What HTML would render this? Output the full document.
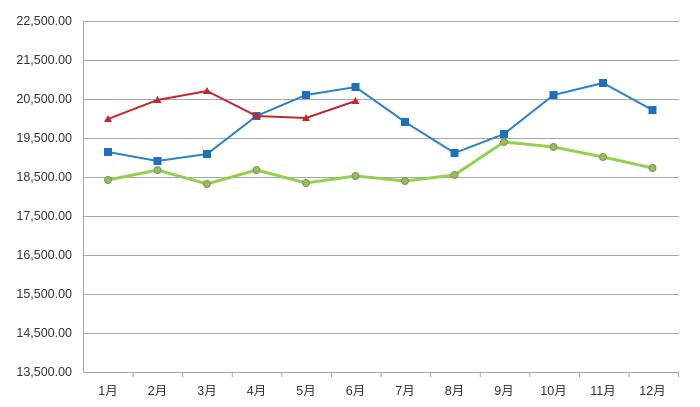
<!DOCTYPE html>
<html><head><meta charset="utf-8"><style>
html,body{margin:0;padding:0;background:#fff;}
svg{display:block;}
text{font-family:"Liberation Sans","Noto Sans CJK SC",sans-serif;font-size:12.5px;fill:#333;}
</style></head><body>
<svg width="700" height="407" xmlns="http://www.w3.org/2000/svg">
<g stroke="#a6a6a6" stroke-width="1">
<line x1="83" y1="21.5" x2="679" y2="21.5"/>
<line x1="83" y1="60.5" x2="679" y2="60.5"/>
<line x1="83" y1="99.5" x2="679" y2="99.5"/>
<line x1="83" y1="138.5" x2="679" y2="138.5"/>
<line x1="83" y1="177.5" x2="679" y2="177.5"/>
<line x1="83" y1="216.5" x2="679" y2="216.5"/>
<line x1="83" y1="255.5" x2="679" y2="255.5"/>
<line x1="83" y1="294.5" x2="679" y2="294.5"/>
<line x1="83" y1="333.5" x2="679" y2="333.5"/>
<line x1="83" y1="372.5" x2="679" y2="372.5"/>
<line x1="83.5" y1="21" x2="83.5" y2="372"/>
<line x1="133.1" y1="372" x2="133.1" y2="377"/><line x1="182.7" y1="372" x2="182.7" y2="377"/><line x1="232.3" y1="372" x2="232.3" y2="377"/><line x1="281.9" y1="372" x2="281.9" y2="377"/><line x1="331.5" y1="372" x2="331.5" y2="377"/><line x1="381.1" y1="372" x2="381.1" y2="377"/><line x1="430.7" y1="372" x2="430.7" y2="377"/><line x1="480.3" y1="372" x2="480.3" y2="377"/><line x1="529.9" y1="372" x2="529.9" y2="377"/><line x1="579.5" y1="372" x2="579.5" y2="377"/><line x1="629.1" y1="372" x2="629.1" y2="377"/><line x1="678.5" y1="372" x2="678.5" y2="377"/>
</g>
<g text-anchor="end">
<text x="72" y="25">22,500.00</text><text x="72" y="64">21,500.00</text><text x="72" y="103">20,500.00</text><text x="72" y="142">19,500.00</text><text x="72" y="181">18,500.00</text><text x="72" y="220">17,500.00</text><text x="72" y="259">16,500.00</text><text x="72" y="298">15,500.00</text><text x="72" y="337">14,500.00</text><text x="72" y="376">13,500.00</text>
</g>
<g text-anchor="middle">
<text x="108" y="395">1月</text><text x="157.5" y="395">2月</text><text x="207" y="395">3月</text><text x="256.5" y="395">4月</text><text x="306" y="395">5月</text><text x="355.5" y="395">6月</text><text x="405" y="395">7月</text><text x="454.5" y="395">8月</text><text x="504" y="395">9月</text><text x="553.5" y="395">10月</text><text x="603" y="395">11月</text><text x="652.5" y="395">12月</text>
</g>
<polyline fill="none" stroke="#92d050" stroke-width="3" points="108,180 157.5,170 207,184 256.5,170 306,183 355.5,176 405,181 454.5,175 504,142 553.5,147 603,157 652.5,168"/>
<g fill="#9bbb59" stroke="#6f9a5a" stroke-width="1">
<circle cx="108" cy="180" r="3.5"/><circle cx="157.5" cy="170" r="3.5"/><circle cx="207" cy="184" r="3.5"/><circle cx="256.5" cy="170" r="3.5"/><circle cx="306" cy="183" r="3.5"/><circle cx="355.5" cy="176" r="3.5"/><circle cx="405" cy="181" r="3.5"/><circle cx="454.5" cy="175" r="3.5"/><circle cx="504" cy="142" r="3.5"/><circle cx="553.5" cy="147" r="3.5"/><circle cx="603" cy="157" r="3.5"/><circle cx="652.5" cy="168" r="3.5"/>
</g>
<polyline fill="none" stroke="#2a82c8" stroke-width="2" points="108,152 157.5,161 207,154 256.5,116 306,95 355.5,87 405,122 454.5,153 504,134 553.5,95 603,83 652.5,110"/>
<g fill="#1f6fbf">
<rect x="104" y="148" width="8" height="8"/><rect x="153.5" y="157" width="8" height="8"/><rect x="203" y="150" width="8" height="8"/><rect x="252.5" y="112" width="8" height="8"/><rect x="302" y="91" width="8" height="8"/><rect x="351.5" y="83" width="8" height="8"/><rect x="401" y="118" width="8" height="8"/><rect x="450.5" y="149" width="8" height="8"/><rect x="500" y="130" width="8" height="8"/><rect x="549.5" y="91" width="8" height="8"/><rect x="599" y="79" width="8" height="8"/><rect x="648.5" y="106" width="8" height="8"/>
</g>
<polyline fill="none" stroke="#c0282d" stroke-width="2" points="108,119 157.5,100 207,91 256.5,116 306,118 355.5,101"/>
<g fill="#c0282d">
<polygon points="108,115 112,122 104,122"/><polygon points="157.5,96 161.5,103 153.5,103"/><polygon points="207,87 211,94 203,94"/><polygon points="256.5,112 260.5,119 252.5,119"/><polygon points="306,114 310,121 302,121"/><polygon points="355.5,97 359.5,104 351.5,104"/>
</g>
</svg>
</body></html>
